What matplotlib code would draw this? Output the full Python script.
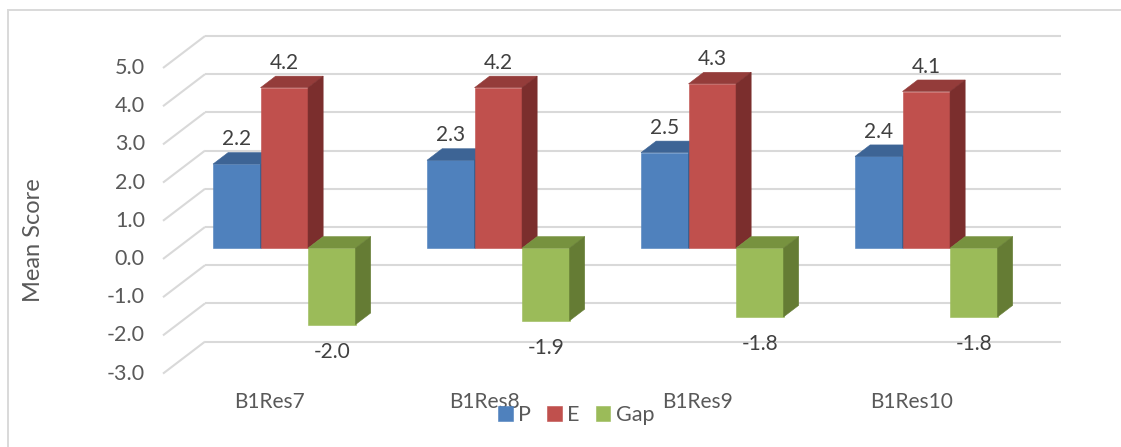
import matplotlib.pyplot as plt
from matplotlib.patches import Polygon, Rectangle

# Mean scores per item
categories = ['B1Res7', 'B1Res8', 'B1Res9', 'B1Res10']
series_names = ['P', 'E', 'Gap']
p_scores = [2.2, 2.3, 2.5, 2.4]
e_scores = [4.2, 4.2, 4.3, 4.1]
gap_scores = [-2.0, -1.9, -1.8, -1.8]
y_ticks = [-3, -2, -1, 0, 1, 2, 3, 4, 5]

# front / top / side shades for the fake 3D columns
colors = {
    'P': ('#4F81BD', '#3D6495', '#345A87'),
    'E': ('#C0504D', '#943C3A', '#7B2E2D'),
    'Gap': ('#9BBB59', '#77923F', '#657C34'),
}
grid_color = '#D9D9D9'
text_color = '#595959'
label_color = '#404040'

plt.rcParams['font.family'] = ['Lato', 'DejaVu Sans']

W, H = 1121, 447
fig = plt.figure(figsize=(W / 100, H / 100), dpi=100)
ax = fig.add_axes([0, 0, 1, 1])

# pixel layout of the plot area (front floor corner, scale)
px_cat = 214.0
px_unit = 38.2
x0_px = 163.0
y0_px = 259.0
ax.set_xlim(-x0_px / px_cat, (W - x0_px) / px_cat)
ax.set_ylim((y0_px - H) / px_unit, y0_px / px_unit)
ax.axis('off')

# oblique depth of the box, in data units
depth_x = 42 / px_cat
depth_y = 32 / px_unit
front_frac, back_frac = 0.34, 0.70
bar_w = 0.222

# chart border
fig.patches.append(Rectangle((8 / W, -0.05), 1.1, 1 - 10 / H + 0.05, transform=fig.transFigure,
                             fill=False, edgecolor=grid_color, linewidth=1.4))

# gridlines: diagonal on the side plus line along the back wall
n = len(categories)
for v in y_ticks:
    ax.plot([0, depth_x], [v, v + depth_y], color=grid_color, lw=1.5, zorder=1,
            solid_capstyle='butt')
    ax.plot([depth_x, n + depth_x], [v + depth_y, v + depth_y], color=grid_color, lw=1.5,
            zorder=1, solid_capstyle='butt')
    ax.text(-0.085, v, f'{v:.1f}', ha='right', va='center', fontsize=15.5, color=text_color)

ax.text(-0.603, 0.5, 'Mean Score', rotation=90, ha='center', va='center', fontsize=17,
        color=text_color)

for i, name in enumerate(categories):
    ax.text(i + 0.5, -3.74, name, ha='center', va='center', fontsize=15, color=text_color)

fx = front_frac * depth_x
fy = front_frac * depth_y
ddx = (back_frac - front_frac) * depth_x
ddy = (back_frac - front_frac) * depth_y

handles = []
for s, (name, values) in enumerate(zip(series_names, [p_scores, e_scores, gap_scores])):
    front, top, side = colors[name]
    xs = [i + 0.5 + fx + (s - 1) * bar_w for i in range(n)]
    bars = ax.bar(xs, values, width=bar_w, bottom=fy, color=front, edgecolor=front,
                  linewidth=0.4, zorder=2 + s, label=name)
    handles.append(bars)
    for x, v in zip(xs, values):
        L, R = x - bar_w / 2, x + bar_w / 2
        b = fy + min(0, v)
        t = fy + max(0, v)
        ax.add_patch(Polygon([(L, t), (R, t), (R + ddx, t + ddy), (L + ddx, t + ddy)],
                             closed=True, facecolor=top, edgecolor=top, lw=0.4, zorder=2 + s))
        ax.add_patch(Polygon([(R, b), (R, t), (R + ddx, t + ddy), (R + ddx, b + ddy)],
                             closed=True, facecolor=side, edgecolor=side, lw=0.4, zorder=2 + s))
        if v >= 0:
            ly = v + (front_frac + back_frac) / 2 * depth_y + 0.50
        else:
            ly = v + fy - 0.71
        ax.text(x, ly, f'{v:.1f}', ha='center', va='center', fontsize=15, color=label_color,
                zorder=10)

fig.legend(handles=handles, labels=series_names, loc='center', ncol=3, frameon=False,
           bbox_to_anchor=(576 / W, 1 - 415 / H), fontsize=15.5, handlelength=0.68,
           handleheight=0.68, handletextpad=0.25, columnspacing=0.75, labelcolor=text_color)

fig.savefig('out.png', dpi=100)
